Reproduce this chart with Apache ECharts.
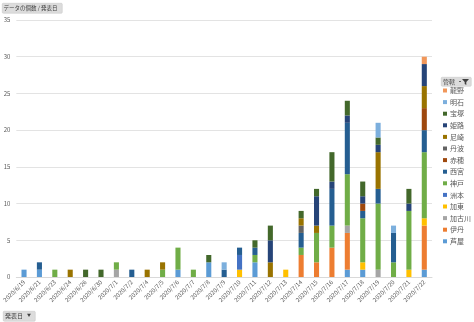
<!DOCTYPE html>
<html><head><meta charset="utf-8">
<script src="https://cdn.jsdelivr.net/npm/echarts@6/dist/echarts.min.js"></script>
<style>html,body{margin:0;padding:0;background:#fff}#c{width:474px;height:322px}</style>
</head><body><div id="c"></div>
<script>
const categories = ['2020/6/19','2020/6/21','2020/6/23','2020/6/24','2020/6/26','2020/6/30','2020/7/1','2020/7/2','2020/7/4','2020/7/5','2020/7/6','2020/7/7','2020/7/8','2020/7/9','2020/7/10','2020/7/11','2020/7/12','2020/7/13','2020/7/14','2020/7/15','2020/7/16','2020/7/17','2020/7/18','2020/7/19','2020/7/20','2020/7/21','2020/7/22'];
//                      6/19 21 23 24 26 30 7/1 2  4  5  6  7  8  9 10 11 12 13 14 15 16 17 18 19 20 21 22
const ashiya     = [1, 1, 0, 0, 0, 0, 0, 0, 0, 0, 1, 0, 2, 0, 0, 2, 0, 0, 0, 0, 0, 1, 1, 0, 0, 0, 1];
const itami      = [0, 0, 0, 0, 0, 0, 0, 0, 0, 0, 0, 0, 0, 0, 0, 0, 0, 0, 3, 2, 4, 5, 0, 0, 0, 0, 6];
const kakogawa   = [0, 0, 0, 0, 0, 0, 1, 0, 0, 0, 0, 0, 0, 0, 0, 0, 0, 0, 0, 0, 0, 1, 0, 1, 0, 0, 0];
const kato       = [0, 0, 0, 0, 0, 0, 0, 0, 0, 0, 0, 0, 0, 0, 1, 0, 0, 1, 0, 0, 0, 0, 1, 0, 0, 1, 1];
const sumoto     = [0, 0, 0, 0, 0, 0, 0, 0, 0, 0, 0, 0, 0, 0, 2, 0, 0, 0, 0, 0, 0, 0, 0, 0, 0, 0, 0];
const kobe       = [0, 0, 1, 0, 0, 0, 1, 0, 0, 1, 3, 1, 0, 0, 0, 1, 0, 0, 1, 4, 3, 7, 6, 9, 2, 8, 9];
const nishinomiya= [0, 1, 0, 0, 0, 0, 0, 1, 0, 0, 0, 0, 0, 1, 1, 1, 0, 0, 2, 0, 5, 7, 1, 2, 4, 0, 3];
const ako        = [0, 0, 0, 0, 0, 0, 0, 0, 0, 0, 0, 0, 0, 0, 0, 0, 0, 0, 0, 0, 0, 0, 1, 0, 0, 0, 3];
const tamba      = [0, 0, 0, 0, 0, 0, 0, 0, 0, 0, 0, 0, 0, 0, 0, 0, 0, 0, 1, 0, 0, 0, 0, 0, 0, 0, 0];
const amagasaki  = [0, 0, 0, 1, 0, 0, 0, 0, 1, 1, 0, 0, 0, 0, 0, 0, 2, 0, 1, 1, 0, 0, 0, 5, 0, 0, 3];
const himeji     = [0, 0, 0, 0, 0, 0, 0, 0, 0, 0, 0, 0, 0, 0, 0, 0, 3, 0, 0, 4, 1, 1, 1, 1, 0, 1, 3];
const takarazuka = [0, 0, 0, 0, 1, 1, 0, 0, 0, 0, 0, 0, 1, 0, 0, 1, 2, 0, 1, 1, 4, 2, 2, 1, 0, 2, 0];
const akashi     = [0, 0, 0, 0, 0, 0, 0, 0, 0, 0, 0, 0, 0, 1, 0, 0, 0, 0, 0, 0, 0, 0, 0, 2, 1, 0, 0];
const tatsuno    = [0, 0, 0, 0, 0, 0, 0, 0, 0, 0, 0, 0, 0, 0, 0, 0, 0, 0, 0, 0, 0, 0, 0, 0, 0, 0, 1];
const seriesNames = ['芦屋','伊丹','加古川','加東','洲本','神戸','西宮','赤穂','丹波','尼崎','姫路','宝塚','明石','龍野'];
const seriesData = [ashiya, itami, kakogawa, kato, sumoto, kobe, nishinomiya, ako, tamba, amagasaki, himeji, takarazuka, akashi, tatsuno];
const colors = ['#5B9BD5','#ED7D31','#A5A5A5','#FFC000','#4472C4','#70AD47','#255E91','#9E480E','#636363','#997300','#264478','#43682B','#7CAFDD','#F1975A'];
const yTicks = {min: 0, max: 35, interval: 5};

const FONT = '"Noto Sans CJK JP", "Noto Sans", sans-serif';
const chart = echarts.init(document.getElementById('c'), null, {renderer: 'canvas'});
chart.setOption({
  animation: false,
  color: colors,
  textStyle: {fontFamily: FONT},
  grid: {left: 15, right: 42, top: 20, bottom: 45, containLabel: false},
  legend: {
    orient: 'vertical', left: 443, top: 87, padding: 0,
    data: seriesNames.slice().reverse(),
    icon: 'rect', itemWidth: 4, itemHeight: 4, itemGap: 4.6,
    textStyle: {fontSize: 7, color: '#595959', fontFamily: FONT, padding: [0,0,0,-2]}
  },
  xAxis: {
    type: 'category', data: categories,
    axisLine: {lineStyle: {color: '#d9d9d9'}},
    axisTick: {show: false},
    axisLabel: {rotate: 45, fontSize: 6, color: '#595959', interval: 0, margin: 4, fontFamily: FONT}
  },
  yAxis: {
    type: 'value', min: yTicks.min, max: yTicks.max, interval: yTicks.interval,
    axisLine: {show: false}, axisTick: {show: false},
    axisLabel: {fontSize: 6, color: '#595959', margin: 6, fontFamily: FONT},
    splitLine: {lineStyle: {color: '#e3e3e3', width: 1}}
  },
  series: seriesNames.map((n, i) => ({
    name: n, type: 'bar', stack: 'total', barWidth: '33%',
    data: seriesData[i].map(v => v === 0 ? null : v),
    itemStyle: {color: colors[i]}
  })),
  graphic: [
    {type: 'rect', left: 2, top: 3, shape: {width: 60, height: 10, r: 1},
     style: {fill: '#dcdcdc', stroke: '#c4c4c4', lineWidth: 0.5}},
    {type: 'text', left: 3.5, top: 5, style: {text: 'データの個数 / 発表日', font: '5.5px ' + FONT, fill: '#404040'}},
    {type: 'rect', left: 441, top: 77, shape: {width: 30, height: 9, r: 1},
     style: {fill: '#dcdcdc', stroke: '#c4c4c4', lineWidth: 0.5}},
    {type: 'text', left: 443, top: 78.5, style: {text: '管轄', font: '6px ' + FONT, fill: '#404040'}},
    {type: 'rect', left: 459, top: 81, shape: {width: 2, height: 0.8}, style: {fill: '#404040'}},
    {type: 'polygon', shape: {points: [[462,79],[469,79],[466.3,82],[466.3,85],[464.7,84],[464.7,82]]}, style: {fill: '#404040'}},
    {type: 'rect', left: 3, top: 311, shape: {width: 32, height: 10, r: 1},
     style: {fill: '#dcdcdc', stroke: '#c4c4c4', lineWidth: 0.5}},
    {type: 'text', left: 5, top: 312.5, style: {text: '発表日', font: '6px ' + FONT, fill: '#404040'}},
    {type: 'text', left: 27, top: 313, style: {text: '▼', font: '4px ' + FONT, fill: '#404040'}}
  ]
});
</script></body></html>
